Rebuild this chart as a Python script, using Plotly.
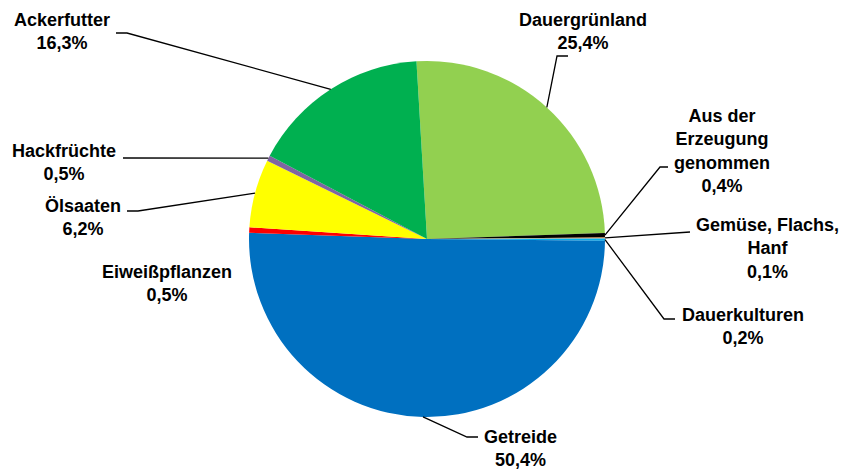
import math
import plotly.graph_objects as go

# Data
categories = ["Dauergrünland", "Aus der Erzeugung genommen", "Gemüse, Flachs, Hanf",
              "Dauerkulturen", "Getreide", "Eiweißpflanzen", "Ölsaaten",
              "Hackfrüchte", "Ackerfutter"]
values = [25.4, 0.4, 0.1, 0.2, 50.4, 0.5, 6.2, 0.5, 16.3]
label_texts = ["Dauergrünland<br>25,4%", "Aus der<br>Erzeugung<br>genommen<br>0,4%",
               "Gemüse, Flachs,<br>Hanf<br>0,1%", "Dauerkulturen<br>0,2%",
               "Getreide<br>50,4%", "Eiweißpflanzen<br>0,5%", "Ölsaaten<br>6,2%",
               "Hackfrüchte<br>0,5%", "Ackerfutter<br>16,3%"]
colors = ["#92D050", "#000000", "#F79646", "#00B0F0", "#0070C0", "#FF0000",
          "#FFFF00", "#8064A2", "#00B050"]

W, H = 848, 469
CX, CY, R = 427, 239, 178
ROT = -3.4

# label layout (pixel centres) and leader elbow points (None = no leader)
label_pos = [(583, 31), (722, 151), (767, 249), (743, 326), (520, 448),
             (167, 283), (83, 217), (64, 162), (62, 31)]
elbows = [[(557, 56), (568, 56)], [(660, 167), (668, 167)], [(690, 232)],
          [(664, 319), (675, 319)], [(467, 437), (478, 437)], None,
          [(138, 211), (127, 211)], [(123, 158)], [(127, 33), (116, 33)]]

fig = go.Figure(go.Pie(
    labels=categories, values=values, sort=False, direction="clockwise",
    rotation=ROT, textinfo="none", hoverinfo="label+percent",
    marker=dict(colors=colors, line=dict(width=0)),
    domain=dict(x=[(CX - R) / W, (CX + R) / W], y=[(H - CY - R) / H, (H - CY + R) / H]),
    showlegend=False,
))

def px(x):
    return x / W

def py(y):
    return (H - y) / H

total = sum(values)
cum = 0.0
annotations = []
shapes = []
for v, txt, pos, elb in zip(values, label_texts, label_pos, elbows):
    mid = cum + v / 2
    cum += v
    ang = math.radians(ROT + mid / total * 360)
    ex = CX + R * math.sin(ang)
    ey = CY - R * math.cos(ang)
    annotations.append(dict(x=px(pos[0]), y=py(pos[1]), xref="paper", yref="paper",
                            text=txt, showarrow=False, xanchor="center", yanchor="middle",
                            font=dict(family="Liberation Sans, Arial", size=18,
                                      color="#000000", weight="bold")))
    if elb:
        pts = [(ex, ey)] + elb
        path = "M " + " L ".join(f"{px(a)},{py(b)}" for a, b in pts)
        shapes.append(dict(type="path", path=path, xref="paper", yref="paper",
                           line=dict(color="#000000", width=1.3)))

fig.update_layout(
    width=W, height=H, margin=dict(l=0, r=0, t=0, b=0),
    paper_bgcolor="white", plot_bgcolor="white",
    annotations=annotations, shapes=shapes,
)
fig.write_html("out.html", config={"displayModeBar": False},
               post_script="document.body.style.margin='0px';document.body.style.overflow='hidden';")
